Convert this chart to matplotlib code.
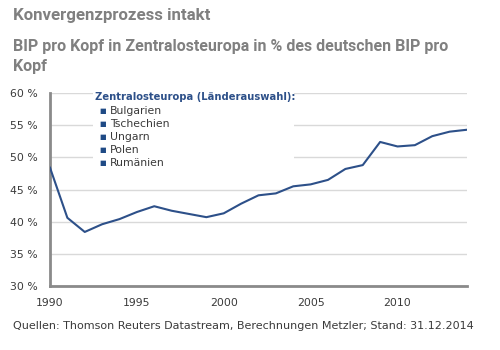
import matplotlib.pyplot as plt
from matplotlib.patches import Rectangle

# -------------------------------
# DATA
# -------------------------------
years = list(range(1990, 2015))
bip_share = [48.4, 40.6, 38.4, 39.6, 40.4, 41.5, 42.4, 41.7, 41.2, 40.7,
             41.3, 42.8, 44.1, 44.4, 45.5, 45.8, 46.5, 48.2, 48.8, 52.4,
             51.7, 51.9, 53.3, 54.0, 54.3]
y_ticks = [30, 35, 40, 45, 50, 55, 60]
x_ticks = [1990, 1995, 2000, 2005, 2010]
countries = ["Bulgarien", "Tschechien", "Ungarn", "Polen", "Rumänien"]

TITLE = "Konvergenzprozess intakt"
SUBTITLE = "BIP pro Kopf in Zentralosteuropa in % des deutschen BIP pro\nKopf"
LEGEND_HEAD = "Zentralosteuropa (Länderauswahl):"
SOURCE = "Quellen: Thomson Reuters Datastream, Berechnungen Metzler; Stand: 31.12.2014"

LINE_COLOR = "#2d5089"
TITLE_COLOR = "#808080"
TEXT_COLOR = "#3a3a3a"
NARROW = ["Roboto", "DejaVu Sans"]

# -------------------------------
# DRAW
# -------------------------------
fig = plt.figure(figsize=(5, 3.5), dpi=100)
ax = fig.add_axes([0.1, 0.183, 0.834, 0.551])

ax.plot(years, bip_share, color=LINE_COLOR, lw=1.5, zorder=4)

ax.set_xlim(1990, 2014)
ax.set_ylim(30, 60)
ax.set_yticks(y_ticks)
ax.set_yticklabels([f"{v} %" for v in y_ticks])
ax.set_xticks(x_ticks)
ax.tick_params(length=0, labelsize=7.8, colors=TEXT_COLOR)
ax.tick_params(axis="x", pad=9)
ax.tick_params(axis="y", pad=9)

ax.grid(axis="y", color="#d9d9d9", lw=1)
ax.set_axisbelow(True)
for s in ["top", "right"]:
    ax.spines[s].set_visible(False)
for s in ["left", "bottom"]:
    ax.spines[s].set_color("#8a8a8a")
    ax.spines[s].set_linewidth(2)

# legend box (white, covers the grid)
ax.add_patch(Rectangle((0.104, 0.58), 0.48, 0.44, transform=ax.transAxes,
                       facecolor="white", edgecolor="none", zorder=2,
                       clip_on=False))
fig.text(0.19, 0.723, LEGEND_HEAD, fontsize=7.2, fontweight="bold",
         color=LINE_COLOR, va="center")
for i, name in enumerate(countries):
    yy = 0.684 - i * 0.0375
    fig.text(0.198, yy, "■", fontsize=5, color="#1f4a85", va="center")
    fig.text(0.22, yy, name, fontsize=7.8, color=TEXT_COLOR, va="center")

# titles
fig.text(0.026, 0.955, TITLE, fontsize=12.2, fontweight="bold",
         color=TITLE_COLOR, family=NARROW, va="center")
fig.text(0.026, 0.838, SUBTITLE, fontsize=11.5, fontweight="bold",
         color=TITLE_COLOR, family=NARROW, va="center", linespacing=1.45)

fig.text(0.026, 0.068, SOURCE, fontsize=8.0, color=TEXT_COLOR, va="center")

fig.savefig("out.png", dpi=100)
